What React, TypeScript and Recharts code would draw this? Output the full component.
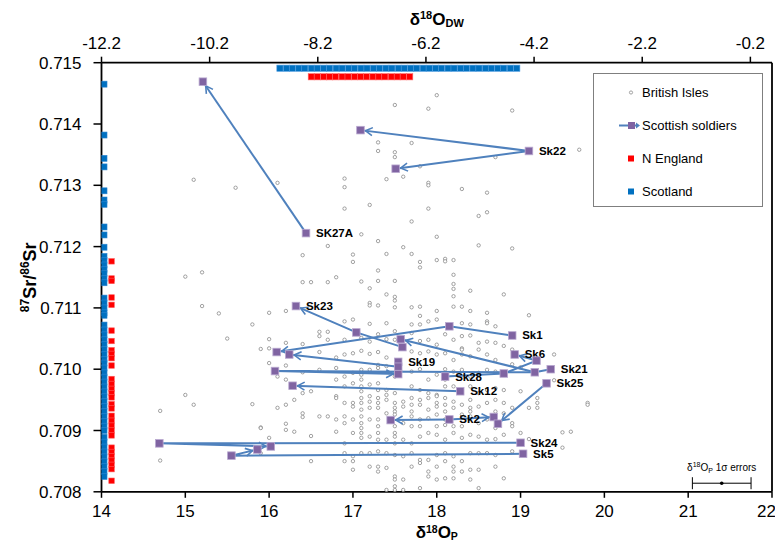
import React from 'react';
import {
	ScatterChart,
	Scatter,
	XAxis,
	YAxis,
	ReferenceLine,
	Legend,
	ErrorBar,
} from 'recharts';

const FONT = '"Liberation Sans", Arial, sans-serif';

const COLORS = {
	british: '#8a8a8a',
	soldier: '#8064a2',
	soldierEdge: '#b9a9d0',
	track: '#4f81bd',
	nEngland: '#ff0000',
	scotland: '#0070c0',
	axis: '#000000',
};

// axis ticks
const pTicks = [14, 15, 16, 17, 18, 19, 20, 21, 22];
const dwTicks = [-12.2, -10.2, -8.2, -6.2, -4.2, -2.2, -0.2];
const srTicks = [0.708, 0.709, 0.71, 0.711, 0.712, 0.713, 0.714, 0.715];

// British Isles reference data [d18Op, 87Sr/86Sr]
const britishIsles: [number, number][] = [
	[18.0, 0.71447], [17.5, 0.71431], [17.9, 0.71425], [18.9, 0.71422], [17.3, 0.7137], [17.7, 0.71369],
	[17.3, 0.71356], [17.5, 0.71354], [17.5, 0.71346], [18.7, 0.71346], [19.7, 0.71358], [17.8, 0.71331],
	[17.6, 0.71314], [17.4, 0.7131], [16.9, 0.71311], [16.9, 0.71297], [17.9, 0.71304], [17.9, 0.713],
	[18.3, 0.71294], [18.6, 0.71288], [15.1, 0.71309], [15.6, 0.71296], [16.1, 0.71304], [16.9, 0.71262],
	[17.2, 0.71268], [17.9, 0.71262], [18.6, 0.71256], [18.5, 0.7125], [17.7, 0.71241], [17.1, 0.7122],
	[18.0, 0.71216], [17.3, 0.71209], [16.7, 0.71201], [18.5, 0.71202], [18.9, 0.71197], [17.6, 0.71199],
	[16.4, 0.71186], [17.0, 0.71187], [17.0, 0.71175], [17.4, 0.71188], [17.7, 0.71188], [17.8, 0.71175],
	[17.8, 0.71166], [18.0, 0.71178], [18.1, 0.7118], [18.1, 0.71176], [18.2, 0.71178], [15.0, 0.71151],
	[15.2, 0.71158], [17.3, 0.71161], [16.8, 0.7115], [18.2, 0.71154],
	[15.2, 0.71103], [15.4, 0.71091], [15.8, 0.71073], [15.5, 0.7105], [15.9, 0.71033], [15.0, 0.70958],
	[15.1, 0.70942], [15.8, 0.70943], [14.7, 0.70932], [14.7, 0.70851], [15.9, 0.70905],
	[19.5, 0.70872], [19.4, 0.71024], [19.4, 0.70982], [19.2, 0.70945], [19.1, 0.70937], [19.1, 0.70886],
	[16.4, 0.71142], [16.5, 0.71142], [16.7, 0.71142], [17.1, 0.71143], [17.3, 0.71144], [17.5, 0.71144],
	[18.2, 0.71139], [17.2, 0.71132], [17.4, 0.71122], [17.5, 0.71118], [17.5, 0.71112], [18.2, 0.71131],
	[18.2, 0.71119], [18.4, 0.71128], [18.8, 0.71122], [16.0, 0.71092], [16.2, 0.71095], [17.2, 0.71108],
	[17.2, 0.71104], [17.3, 0.71104], [17.5, 0.71101], [17.7, 0.71101], [17.8, 0.71102], [17.8, 0.71087],
	[18.0, 0.71095], [18.2, 0.71102], [18.3, 0.71102], [18.4, 0.71095], [18.6, 0.71092], [19.1, 0.71088],
	[16.6, 0.71061], [16.7, 0.71061], [16.9, 0.71078], [17.0, 0.71081], [17.2, 0.71074], [17.4, 0.71075],
	[17.5, 0.71062], [17.7, 0.71073], [17.8, 0.71073], [17.9, 0.71078], [18.0, 0.71081], [18.3, 0.71075],
	[18.4, 0.71073], [18.6, 0.71078], [18.6, 0.71075], [18.7, 0.7107], [16.0, 0.71049], [16.4, 0.71041],
	[16.6, 0.71054], [16.7, 0.71048], [16.9, 0.71048], [17.1, 0.71051], [17.2, 0.71045], [17.3, 0.71057],
	[17.4, 0.71049], [17.5, 0.71048], [17.7, 0.71059], [17.8, 0.71046], [17.9, 0.71048], [18.0, 0.7104],
	[18.1, 0.71057], [18.2, 0.71048], [18.3, 0.71054], [18.3, 0.71034], [18.4, 0.71055], [18.5, 0.71043],
	[18.6, 0.71045], [18.7, 0.71043], [16.0, 0.71034], [16.2, 0.71043], [16.6, 0.71028], [16.8, 0.71019],
	[16.9, 0.71024], [17.0, 0.71026], [17.1, 0.7103], [17.2, 0.71025], [17.3, 0.71028], [17.4, 0.71019],
	[17.7, 0.71029], [17.8, 0.71026], [17.9, 0.71029], [18.0, 0.71024], [18.1, 0.71026], [18.2, 0.71015],
	[18.3, 0.71024], [18.3, 0.71032], [18.4, 0.71021], [18.5, 0.71032], [18.6, 0.71024], [18.7, 0.71015],
	[18.9, 0.71032], [18.8, 0.71038], [16.0, 0.7101], [16.2, 0.71006], [16.4, 0.70995], [16.6, 0.70999],
	[16.8, 0.71002], [16.9, 0.70988], [17.0, 0.70994], [17.1, 0.70999], [17.1, 0.70991], [17.2, 0.70999],
	[17.3, 0.71007], [17.3, 0.71002], [17.4, 0.71005], [17.5, 0.70988], [17.7, 0.70996], [17.8, 0.71],
	[17.9, 0.70983], [18.0, 0.70991], [18.1, 0.71], [18.2, 0.70996], [18.3, 0.70999], [18.4, 0.70988],
	[18.5, 0.70994], [18.6, 0.70999], [18.7, 0.70996], [18.9, 0.71008], [19.0, 0.71003], [16.1, 0.70988],
	[16.2, 0.70983], [16.4, 0.70961], [16.5, 0.70964], [16.8, 0.70983], [16.9, 0.70972], [17.0, 0.70977],
	[17.1, 0.70983], [17.1, 0.70972], [17.1, 0.70964], [17.2, 0.70975], [17.3, 0.70977], [17.3, 0.70966],
	[17.4, 0.70966], [17.4, 0.70958], [17.5, 0.70961], [17.7, 0.70972], [17.8, 0.70966], [17.9, 0.70961],
	[18.0, 0.70958], [18.1, 0.70983], [18.1, 0.70972], [18.2, 0.70972], [18.4, 0.70972], [18.5, 0.70961],
	[18.6, 0.70966], [18.7, 0.70969], [18.8, 0.70966], [19.0, 0.70964], [19.2, 0.70953], [19.8, 0.70945],
	[19.8, 0.70942], [16.1, 0.70937], [16.2, 0.70942], [16.3, 0.7095], [16.4, 0.70928], [16.8, 0.70956],
	[16.8, 0.70953], [16.9, 0.70945], [17.0, 0.70945], [17.0, 0.70939], [17.1, 0.70953], [17.1, 0.70945],
	[17.1, 0.70934], [17.2, 0.70956], [17.2, 0.70947], [17.2, 0.70937], [17.3, 0.70953], [17.3, 0.70945],
	[17.3, 0.70937], [17.4, 0.7095], [17.5, 0.70945], [17.5, 0.70937], [17.5, 0.70931], [17.6, 0.70947],
	[17.6, 0.70939], [17.7, 0.70953], [17.7, 0.70942], [17.7, 0.70931], [17.8, 0.7095], [17.8, 0.70942],
	[17.9, 0.70953], [17.9, 0.70934], [18.0, 0.70956], [18.0, 0.70945], [18.0, 0.70939], [18.1, 0.70953],
	[18.1, 0.70942], [18.1, 0.70931], [18.2, 0.70947], [18.2, 0.70937], [18.3, 0.70942], [18.4, 0.7095],
	[18.4, 0.70937], [18.4, 0.70931], [18.5, 0.70939], [18.6, 0.70945], [18.7, 0.7095], [18.7, 0.70931],
	[18.8, 0.70945], [18.9, 0.70937], [19.2, 0.70937], [16.2, 0.70911], [16.3, 0.70898], [16.4, 0.70922],
	[16.6, 0.70923], [16.7, 0.70923], [16.8, 0.70918], [16.9, 0.70923], [16.9, 0.70912], [17.0, 0.70918],
	[17.1, 0.70923], [17.1, 0.70912], [17.1, 0.70904], [17.2, 0.70918], [17.3, 0.70918], [17.3, 0.70907],
	[17.4, 0.70928], [17.5, 0.70926], [17.5, 0.70907], [17.6, 0.70912], [17.7, 0.70923], [17.7, 0.70907],
	[17.8, 0.70918], [17.8, 0.70907], [17.9, 0.7092], [18.0, 0.70926], [18.0, 0.70907], [18.1, 0.70918],
	[18.1, 0.70909], [18.2, 0.70907], [18.3, 0.70926], [18.3, 0.70907], [18.4, 0.70923], [18.5, 0.70912],
	[18.6, 0.70918], [18.7, 0.70904], [18.8, 0.70928], [18.9, 0.70912], [19.5, 0.70897], [19.6, 0.70898],
	[19.0, 0.70896], [15.9, 0.70904], [16.0, 0.70888], [16.2, 0.70901], [16.5, 0.70891], [16.8, 0.70898],
	[16.9, 0.70879], [17.0, 0.70896], [17.1, 0.70896], [17.1, 0.70888], [17.2, 0.7089], [17.3, 0.70896],
	[17.3, 0.70885], [17.4, 0.70885], [17.5, 0.70896], [17.5, 0.7089], [17.5, 0.70879], [17.6, 0.70885],
	[17.7, 0.70879], [17.8, 0.7089], [17.9, 0.70896], [18.0, 0.70893], [18.1, 0.70885], [18.2, 0.70896],
	[18.3, 0.70888], [18.4, 0.70893], [18.5, 0.7089], [18.6, 0.70885], [18.7, 0.70886], [18.8, 0.70893],
	[18.9, 0.70907], [15.9, 0.70863], [16.5, 0.7085], [16.9, 0.70863], [17.0, 0.70858], [17.1, 0.70863],
	[17.2, 0.70863], [17.3, 0.70866], [17.4, 0.70863], [17.5, 0.7086], [17.6, 0.70858], [17.7, 0.70863],
	[17.8, 0.70852], [17.9, 0.70852], [18.0, 0.7086], [18.1, 0.70863], [18.2, 0.70858], [18.3, 0.7085],
	[18.4, 0.70863], [18.5, 0.70863], [18.6, 0.70863], [18.7, 0.7086], [18.9, 0.70866], [16.9, 0.7085],
	[17.0, 0.7085], [17.0, 0.70836], [17.2, 0.70841], [17.3, 0.70841], [17.3, 0.70833], [17.4, 0.70839],
	[17.5, 0.70825], [17.5, 0.7082], [17.6, 0.7082], [17.7, 0.70841], [17.8, 0.70847], [17.9, 0.70833],
	[17.9, 0.70825], [18.0, 0.70841], [18.1, 0.7085], [18.2, 0.70841], [18.2, 0.70833], [18.3, 0.70833],
	[18.4, 0.70836], [18.5, 0.70836], [18.7, 0.70841], [18.8, 0.70822], [17.4, 0.70803], [17.5, 0.70809],
	[17.5, 0.70803], [17.6, 0.70803], [17.8, 0.70806], [18.0, 0.7082], [18.1, 0.70822], [18.2, 0.70822],
	[18.4, 0.7082], [18.5, 0.70806],
];

// regional baselines plotted against the Sr axis (left strip)
const scotlandSr = [
	0.71465, 0.71382, 0.71344, 0.7133, 0.71291, 0.71276, 0.71269, 0.71232, 0.71219, 0.71199, 0.71184,
	0.71177, 0.7117, 0.71163, 0.71156, 0.71148, 0.71141, 0.71116, 0.71108, 0.711, 0.71092, 0.71088,
	0.71072, 0.71064, 0.71056, 0.71048, 0.7104, 0.71032, 0.71024, 0.71016, 0.7101, 0.71002, 0.70994,
	0.70987, 0.70979, 0.70971, 0.70963, 0.70955, 0.70947, 0.70939, 0.70931, 0.70923, 0.70915, 0.70907,
	0.709, 0.70889, 0.70881, 0.70873, 0.70865, 0.70857, 0.70849, 0.70841, 0.70833, 0.70825,
];
const nEnglandSr = [
	0.71176, 0.71148, 0.71144, 0.71117, 0.71105, 0.71063, 0.71046, 0.71031, 0.71025, 0.71018, 0.71006,
	0.70984, 0.70976, 0.70968, 0.70961, 0.70954, 0.70943, 0.70936, 0.70924, 0.70916, 0.70908, 0.709,
	0.70892, 0.70872, 0.70865, 0.70858, 0.70851, 0.70844, 0.70837, 0.70818,
];

// drinking water d18O ranges (top strip, against the DW axis)
const scotlandDw = [
	-8.9, -8.78, -8.67, -8.55, -8.44, -8.32, -8.21, -8.09, -7.98, -7.86, -7.75, -7.63, -7.52, -7.4,
	-7.29, -7.17, -7.06, -6.94, -6.83, -6.71, -6.6, -6.48, -6.37, -6.25, -6.14, -6.02, -5.91, -5.79,
	-5.68, -5.56, -5.45, -5.33, -5.22, -5.1, -4.99, -4.87, -4.76, -4.64, -4.52,
];
const nEnglandDw = [
	-8.32, -8.21, -8.09, -7.98, -7.87, -7.75, -7.64, -7.52, -7.41, -7.3, -7.18, -7.07, -6.96, -6.84,
	-6.73, -6.62, -6.5,
];

// Scottish soldiers samples [d18Op, 87Sr/86Sr, label]
const soldiers: [number, number, string][] = [
	[15.21, 0.71469, ''], [16.44, 0.71222, 'SK27A'], [19.1, 0.71356, 'Sk22'], [17.09, 0.7139, ''],
	[17.51, 0.71327, ''], [16.32, 0.71103, 'Sk23'], [17.04, 0.7106, ''], [17.57, 0.71049, ''],
	[17.59, 0.71036, ''], [18.15, 0.7107, ''], [18.9, 0.71055, 'Sk1'], [16.09, 0.71028, ''],
	[16.24, 0.71024, ''], [17.54, 0.71012, 'Sk19'], [17.54, 0.71004, ''], [16.07, 0.70997, ''],
	[17.54, 0.70992, ''], [18.1, 0.70988, 'Sk28'], [16.28, 0.70973, ''], [18.28, 0.70964, 'Sk12'],
	[18.93, 0.71024, 'Sk6'], [19.19, 0.71014, ''], [18.8, 0.70993, ''], [19.17, 0.70995, ''],
	[19.36, 0.71, 'Sk21'], [19.31, 0.70977, 'Sk25'], [17.45, 0.70917, ''], [18.15, 0.70918, 'Sk2'],
	[18.68, 0.70922, ''], [18.73, 0.70911, ''], [19.0, 0.7088, 'Sk24'], [19.03, 0.70862, 'Sk5'],
	[14.69, 0.70879, ''], [15.86, 0.70869, ''], [16.02, 0.70874, ''], [15.55, 0.70859, ''],
];

// paths between samples of the same individual, arrow on the last point
const tracks: [number, number][][] = [
	[[16.44, 0.71222], [15.21, 0.71469]],
	[[19.1, 0.71356], [17.09, 0.7139]],
	[[19.1, 0.71356], [17.51, 0.71327]],
	[[17.59, 0.71036], [17.04, 0.7106], [16.32, 0.71103]],
	[[18.9, 0.71055], [18.15, 0.7107], [16.09, 0.71028]],
	[[18.1, 0.70988], [18.8, 0.70993], [19.19, 0.71014], [18.93, 0.71024]],
	[[19.36, 0.71], [19.17, 0.70995], [17.57, 0.71049]],
	[[19.17, 0.70995], [16.07, 0.70997], [17.54, 0.70992]],
	[[17.54, 0.71004], [16.24, 0.71024]],
	[[18.28, 0.70964], [16.28, 0.70973]],
	[[19.31, 0.70977], [18.73, 0.70911]],
	[[18.15, 0.70918], [17.45, 0.70917]],
	[[18.15, 0.70918], [18.68, 0.70922]],
	[[19.0, 0.7088], [14.69, 0.70879], [16.02, 0.70874]],
	[[19.03, 0.70862], [15.55, 0.70859], [15.86, 0.70869]],
];

// 1 sigma analytical error on d18Op
const errorMarker = [{ o: 21.4, sr: 0.70814, err: 0.35 }];

const legendItems = ['British Isles', 'Scottish soldiers', 'N England', 'Scotland'];

const biData = britishIsles.map(([o, sr]) => ({ o, sr }));
const soldierData = soldiers.map(([o, sr, label]) => ({ o, sr, label }));
const scotStrip = scotlandSr.map((sr) => ({ o: 14.03, sr }));
const engStrip = nEnglandSr.map((sr) => ({ o: 14.12, sr }));
const scotTop = scotlandDw.map((dw) => ({ dw, sr: 0.71491 }));
const engTop = nEnglandDw.map((dw) => ({ dw, sr: 0.71477 }));

const OpenCircle = (p: any) => (
	<circle cx={p.cx} cy={p.cy} r={1.7} fill="#fff" stroke={COLORS.british} strokeWidth={0.8} />
);

const squareShape = (fill: string, edge: string, s: number) =>
	function Square(p: any) {
		return (
			<rect x={p.cx - s / 2} y={p.cy - s / 2} width={s} height={s} fill={fill} stroke={edge} strokeWidth={0.6} />
		);
	};

const SoldierShape = (p: any) => (
	<g>
		<rect x={p.cx - 3.8} y={p.cy - 3.8} width={7.6} height={7.6} fill={COLORS.soldier} stroke={COLORS.soldierEdge} strokeWidth={0.8} />
		{p.payload?.label ? (
			<text x={p.cx + 10} y={p.cy + 4} fontFamily={FONT} fontSize={11.5} fontWeight="bold" fill="#000">
				{p.payload.label}
			</text>
		) : null}
	</g>
);

const Nothing = () => <g />;

// polyline through the samples with an open arrowhead at the end
const TrackLine = (props: any) => {
	const pts = (props.points || []).filter((q: any) => q.x != null && q.y != null);
	if (pts.length < 2) return <g />;
	const d = pts.map((q: any, i: number) => `${i ? 'L' : 'M'}${q.x},${q.y}`).join(' ');
	const a = pts[pts.length - 2];
	const b = pts[pts.length - 1];
	const ang = Math.atan2(b.y - a.y, b.x - a.x);
	const c = Math.cos(ang);
	const s = Math.sin(ang);
	const tx = b.x - c * 5;
	const ty = b.y - s * 5;
	const bx = tx - c * 7;
	const by = ty - s * 7;
	const head = `M${bx - s * 4},${by + c * 4} L${tx},${ty} L${bx + s * 4},${by - c * 4}`;
	return (
		<g>
			<path d={d} fill="none" stroke={COLORS.track} strokeWidth={2} />
			<path d={head} fill="none" stroke={COLORS.track} strokeWidth={1.6} />
		</g>
	);
};

const ErrorDot = (p: any) => (
	<g>
		<circle cx={p.cx} cy={p.cy} r={1.8} fill="#000" />
		<text x={p.cx} y={p.cy - 12} textAnchor="middle" fontFamily={FONT} fontSize={10} fill="#000">
			δ<tspan dy={-4} fontSize={7}>18</tspan>
			<tspan dy={4}>O</tspan>
			<tspan dy={2} fontSize={7}>P</tspan>
			<tspan dy={-2}> 1σ errors</tspan>
		</text>
	</g>
);

const PTitle = (p: any) => {
	const vb = p.viewBox || {};
	return (
		<text x={vb.x + vb.width / 2} y={vb.y + 46} textAnchor="middle" fontFamily={FONT} fontSize={17} fontWeight="bold" fill="#000">
			δ<tspan dy={-5} fontSize={10.5}>18</tspan>
			<tspan dy={5}>O</tspan>
			<tspan dy={2.5} fontSize={10.5}>P</tspan>
		</text>
	);
};

const DwTitle = (p: any) => {
	const vb = p.viewBox || {};
	return (
		<text x={vb.x + vb.width / 2} y={vb.y + 17} textAnchor="middle" fontFamily={FONT} fontSize={17} fontWeight="bold" fill="#000">
			δ<tspan dy={-6} fontSize={11}>18</tspan>
			<tspan dy={6}>O</tspan>
			<tspan dy={2} fontSize={11}>DW</tspan>
		</text>
	);
};

const SrTitle = (p: any) => {
	const vb = p.viewBox || {};
	const x = 28;
	const y = vb.y + vb.height / 2;
	return (
		<text x={x} y={y} transform={`rotate(-90 ${x} ${y})`} textAnchor="middle" fontFamily={FONT} fontSize={18} fontWeight="bold" fill="#000">
			<tspan dy={-7} fontSize={12}>87</tspan>
			<tspan dy={7}>Sr/</tspan>
			<tspan dy={-7} fontSize={12}>86</tspan>
			<tspan dy={7}>Sr</tspan>
		</text>
	);
};

const LegendIcon = ({ index }: { index: number }) => {
	if (index === 0) return <circle cx={37} cy={16.5} r={1.6} fill="#fff" stroke={COLORS.british} strokeWidth={0.8} />;
	if (index === 1)
		return (
			<g>
				<line x1={25} y1={16.5} x2={44} y2={16.5} stroke={COLORS.track} strokeWidth={2} />
				<rect x={34} y={13} width={7} height={7} fill={COLORS.soldier} />
				<path d="M42,13.5 L46,16.5 L42,19.5 Z" fill={COLORS.track} />
			</g>
		);
	const fill = index === 2 ? COLORS.nEngland : COLORS.scotland;
	return <rect x={34} y={13.5} width={6} height={6} fill={fill} />;
};

const LegendBox = () => (
	<div
		style={{
			width: 170,
			height: 134,
			boxSizing: 'border-box',
			border: '1px solid #7f7f7f',
			background: '#fff',
			position: 'relative',
			fontFamily: FONT,
			fontSize: 13,
			color: '#000',
		}}
	>
		{legendItems.map((name, i) => (
			<div
				key={name}
				style={{ position: 'absolute', left: 0, top: 2 + i * 33, height: 33, display: 'flex', alignItems: 'center' }}
			>
				<svg width={48} height={33} style={{ display: 'block' }}>
					<LegendIcon index={i} />
				</svg>
				<span style={{ whiteSpace: 'nowrap' }}>{name}</span>
			</div>
		))}
	</div>
);

const axisLine = { stroke: COLORS.axis, strokeWidth: 1.8 };
const tickLine = { stroke: COLORS.axis, strokeWidth: 1.5 };
const tickStyle = { fill: '#000', fontSize: 17, fontFamily: FONT };

export default function App() {
	return (
		<div style={{ width: 767, height: 534 }}>
			<ScatterChart width={767} height={534} margin={{ top: 0, right: 3, bottom: 0, left: 0 }}>
				<XAxis
					xAxisId="p"
					type="number"
					dataKey="o"
					orientation="bottom"
					domain={[14, 22]}
					ticks={pTicks}
					allowDataOverflow
					height={50.2}
					tickSize={6}
					tickMargin={7}
					axisLine={axisLine}
					tickLine={tickLine}
					tick={tickStyle}
					label={<PTitle />}
				/>
				<XAxis
					xAxisId="dw"
					type="number"
					dataKey="dw"
					orientation="top"
					domain={[-12.2, 0.2]}
					ticks={dwTicks}
					allowDataOverflow
					height={54.7}
					tickSize={6}
					tickMargin={8}
					axisLine={axisLine}
					tickLine={tickLine}
					tick={tickStyle}
					tickFormatter={(v: number) => v.toFixed(1)}
					label={<DwTitle />}
				/>
				<YAxis
					type="number"
					dataKey="sr"
					domain={[0.708, 0.715]}
					ticks={srTicks}
					allowDataOverflow
					width={93.5}
					tickSize={8}
					tickMargin={12}
					axisLine={axisLine}
					tickLine={tickLine}
					tick={tickStyle}
					tickFormatter={(v: number) => v.toFixed(3)}
					label={<SrTitle />}
				/>
				<ReferenceLine xAxisId="p" x={22} stroke={COLORS.axis} strokeWidth={1.8} />

				<Scatter name="British Isles" xAxisId="p" data={biData} shape={OpenCircle} isAnimationActive={false} />

				{tracks.map((t, i) => (
					<Scatter
						key={`track-${i}`}
						name={`track-${i}`}
						xAxisId="p"
						data={t.map(([o, sr]) => ({ o, sr }))}
						line={TrackLine}
						shape={Nothing}
						legendType="none"
						isAnimationActive={false}
					/>
				))}

				<Scatter name="Scottish soldiers" xAxisId="p" data={soldierData} shape={SoldierShape} isAnimationActive={false} />

				<Scatter name="Scotland" xAxisId="p" data={scotStrip} shape={squareShape(COLORS.scotland, '#2f86d0', 6)} isAnimationActive={false} />
				<Scatter name="N England" xAxisId="p" data={engStrip} shape={squareShape(COLORS.nEngland, '#ff5a5a', 5.5)} isAnimationActive={false} />
				<Scatter name="Scotland DW" xAxisId="dw" data={scotTop} shape={squareShape(COLORS.scotland, '#4a9ae0', 6.2)} isAnimationActive={false} />
				<Scatter name="N England DW" xAxisId="dw" data={engTop} shape={squareShape(COLORS.nEngland, '#ff6a6a', 6.2)} isAnimationActive={false} />

				<Scatter name="errors" xAxisId="p" data={errorMarker} shape={ErrorDot} isAnimationActive={false}>
					<ErrorBar dataKey="err" direction="x" width={6} stroke="#000" strokeWidth={1} />
				</Scatter>

				<Legend
					layout="vertical"
					align="center"
					verticalAlign="middle"
					width={170}
					height={134}
					wrapperStyle={{ top: 65, left: 585, width: 170, height: 134 }}
					content={() => <LegendBox />}
				/>
			</ScatterChart>
		</div>
	);
}
